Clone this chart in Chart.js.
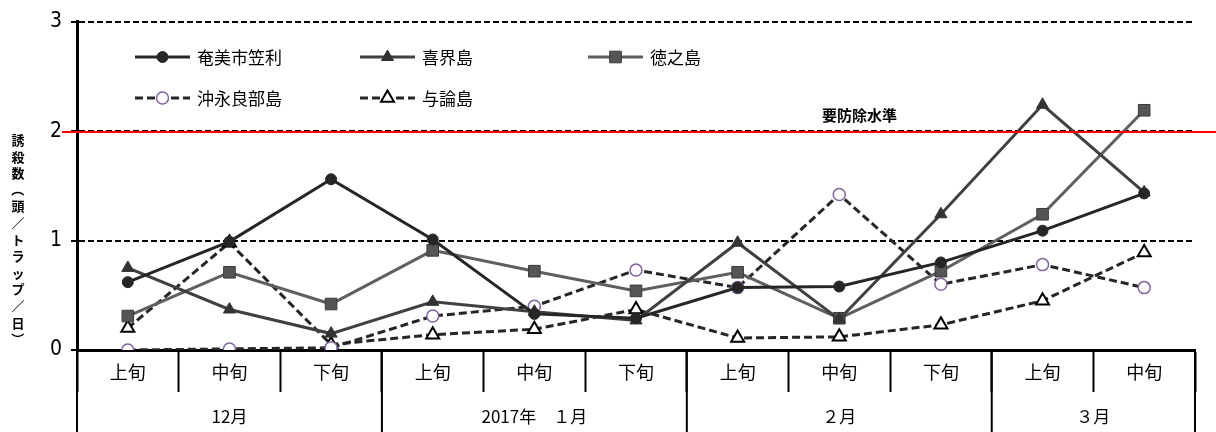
<!DOCTYPE html>
<html>
<head>
<meta charset="utf-8">
<script src="https://cdn.jsdelivr.net/npm/chart.js@4.4.1/dist/chart.umd.min.js"></script>
<style>
  html, body { margin: 0; padding: 0; background: #ffffff; }
  canvas { display: block; }
</style>
</head>
<body>
<canvas id="trapChart" width="1216" height="432"></canvas>
<script>
// 旬ごとのラベルと月のまとまり
const periods = ['上旬', '中旬', '下旬', '上旬', '中旬', '下旬', '上旬', '中旬', '下旬', '上旬', '中旬'];
const months = ['12月', '2017年　１月', '２月', '３月'];
const monthSpans = [3, 3, 3, 2];

// 地点別の誘殺数（頭／トラップ／日）
const amamiKasari = [0.62, 0.99, 1.56, 1.01, 0.33, 0.29, 0.57, 0.58, 0.80, 1.09, 1.43];
const kikaijima   = [0.75, 0.37, 0.15, 0.44, 0.35, 0.27, 0.98, 0.28, 1.24, 2.24, 1.44];
const tokunoshima = [0.31, 0.71, 0.42, 0.91, 0.72, 0.54, 0.71, 0.29, 0.72, 1.24, 2.19];
const okinoerabu  = [0.00, 0.01, 0.02, 0.31, 0.40, 0.73, 0.57, 1.42, 0.60, 0.78, 0.57];
const yoron       = [0.20, 0.98, 0.05, 0.14, 0.19, 0.37, 0.11, 0.12, 0.23, 0.45, 0.89];

const yTicks = [0, 1, 2, 3];
const controlLevel = 2;
const controlLabel = '要防除水準';
const yTitle = '誘殺数（頭／トラップ／日）';

const CJK = '"Noto Sans CJK JP", "Noto Sans CJK SC", sans-serif';
const NARROW = '"Liberation Sans Narrow", "DejaVu Sans Condensed", "Liberation Sans", sans-serif';

const dashed = [8, 4];

const datasets = [
  { label: '奄美市笠利', data: amamiKasari, borderColor: '#262626', borderWidth: 3,
    pointStyle: 'circle', pointRadius: 5.5, pointBackgroundColor: '#262626', pointBorderColor: '#262626', pointBorderWidth: 1 },
  { label: '喜界島', data: kikaijima, borderColor: '#404040', borderWidth: 3,
    pointStyle: 'triangle', pointRadius: 7, pointBackgroundColor: '#333333', pointBorderColor: '#333333', pointBorderWidth: 1 },
  { label: '徳之島', data: tokunoshima, borderColor: '#5f5f5f', borderWidth: 3,
    pointStyle: 'rect', pointRadius: 8.2, pointBackgroundColor: '#555555', pointBorderColor: '#3a3a3a', pointBorderWidth: 1 },
  { label: '沖永良部島', data: okinoerabu, borderColor: '#262626', borderWidth: 3, borderDash: dashed,
    pointStyle: 'circle', pointRadius: 6, pointBackgroundColor: '#ffffff', pointBorderColor: '#8064a2', pointBorderWidth: 1.5 },
  { label: '与論島', data: yoron, borderColor: '#262626', borderWidth: 3, borderDash: dashed,
    pointStyle: 'triangle', pointRadius: 7.5, pointBackgroundColor: '#ffffff', pointBorderColor: '#000000', pointBorderWidth: 2 }
].map(d => Object.assign({ tension: 0, fill: false, pointHoverRadius: d.pointRadius }, d));

// 凡例（線とマーカーを組み合わせて描く）
const legendLayout = [
  { index: 0, x: 135, row: 0 },
  { index: 1, x: 360, row: 0 },
  { index: 2, x: 588, row: 0 },
  { index: 3, x: 135, row: 1 },
  { index: 4, x: 360, row: 1 }
];

const comboLegend = {
  id: 'comboLegend',
  afterDraw(chart) {
    const ctx = chart.ctx;
    const rowY = [57, 98];
    const lineLen = 55;
    legendLayout.forEach(item => {
      const ds = chart.data.datasets[item.index];
      const y = rowY[item.row];
      ctx.save();
      ctx.strokeStyle = ds.borderColor;
      ctx.lineWidth = ds.borderWidth;
      ctx.setLineDash(ds.borderDash || []);
      ctx.beginPath();
      ctx.moveTo(item.x, y);
      ctx.lineTo(item.x + lineLen, y);
      ctx.stroke();
      ctx.setLineDash([]);
      ctx.fillStyle = ds.pointBackgroundColor;
      ctx.strokeStyle = ds.pointBorderColor;
      ctx.lineWidth = ds.pointBorderWidth;
      Chart.helpers.drawPoint(ctx, {
        pointStyle: ds.pointStyle, radius: ds.pointRadius, rotation: 0, borderWidth: ds.pointBorderWidth
      }, item.x + lineLen / 2, y);
      ctx.fillStyle = '#000000';
      ctx.font = '17px ' + CJK;
      ctx.textAlign = 'left';
      ctx.textBaseline = 'middle';
      ctx.fillText(ds.label, item.x + lineLen + 7, y + 1);
      ctx.restore();
    });
  }
};

// 要防除水準の赤線と注記
const controlLine = {
  id: 'controlLine',
  afterDatasetsDraw(chart) {
    const ctx = chart.ctx;
    const y = chart.scales.y.getPixelForValue(controlLevel) + 1;
    const x = chart.scales.x;
    ctx.save();
    ctx.strokeStyle = '#ff0000';
    ctx.lineWidth = 2;
    ctx.beginPath();
    ctx.moveTo(chart.chartArea.left - 15, y);
    ctx.lineTo(chart.width, y);
    ctx.stroke();
    ctx.fillStyle = '#000000';
    ctx.font = 'bold 15px ' + CJK;
    ctx.textAlign = 'center';
    ctx.textBaseline = 'middle';
    const step = x.getPixelForValue(1) - x.getPixelForValue(0);
    ctx.fillText(controlLabel, x.getPixelForValue(7) + step * 0.2, y - 17);
    ctx.restore();
  }
};

// 月の区切り線と月ラベル
const monthRow = {
  id: 'monthRow',
  afterDraw(chart) {
    const ctx = chart.ctx;
    const x = chart.scales.x;
    const step = x.getPixelForValue(1) - x.getPixelForValue(0);
    const top = chart.chartArea.bottom;
    const bottom = chart.height;
    ctx.save();
    ctx.strokeStyle = '#000000';
    ctx.lineWidth = 2;
    ctx.fillStyle = '#000000';
    ctx.font = '17px ' + CJK;
    ctx.textAlign = 'center';
    ctx.textBaseline = 'middle';
    let start = 0;
    const edges = [x.getPixelForValue(0) - step / 2];
    monthSpans.forEach((span, m) => {
      const left = x.getPixelForValue(start) - step / 2;
      const right = x.getPixelForValue(start + span - 1) + step / 2;
      edges.push(right);
      ctx.fillText(months[m], (left + right) / 2, 417);
      start += span;
    });
    edges.forEach(px => {
      ctx.beginPath();
      ctx.moveTo(px, top);
      ctx.lineTo(px, bottom);
      ctx.stroke();
    });
    ctx.restore();
  }
};

// 縦書きの軸タイトル
const verticalTitle = {
  id: 'verticalTitle',
  afterDraw(chart) {
    const ctx = chart.ctx;
    const chars = Array.from(yTitle);
    const cx = 18;
    const stepY = 16.6;
    const y0 = 140;
    ctx.save();
    ctx.fillStyle = '#000000';
    ctx.font = 'bold 13px ' + CJK;
    ctx.textAlign = 'center';
    ctx.textBaseline = 'middle';
    chars.forEach((ch, i) => {
      const cy = y0 + i * stepY;
      if (ch === '（' || ch === '）') {
        ctx.save();
        ctx.translate(cx, cy);
        ctx.rotate(Math.PI / 2);
        ctx.fillText(ch, 0, 0);
        ctx.restore();
      } else {
        ctx.fillText(ch, cx, cy);
      }
    });
    ctx.restore();
  }
};

new Chart(document.getElementById('trapChart'), {
  type: 'line',
  data: { labels: periods, datasets: datasets },
  options: {
    responsive: false,
    animation: false,
    devicePixelRatio: 1,
    layout: { padding: { top: 18, right: 21, left: 0, bottom: 0 } },
    plugins: { legend: { display: false }, tooltip: { enabled: false } },
    scales: {
      x: {
        type: 'category',
        offset: true,
        afterFit(scale) { scale.height = 82; },
        grid: {
          offset: true, display: true, drawOnChartArea: false, drawTicks: true,
          tickLength: 42, tickWidth: 2, tickColor: '#000000'
        },
        border: { display: true, color: '#000000', width: 3 },
        ticks: {
          autoSkip: false, maxRotation: 0, minRotation: 0, padding: -31,
          color: '#000000', font: { family: CJK, size: 18 }
        }
      },
      y: {
        min: yTicks[0],
        max: yTicks[yTicks.length - 1],
        afterFit(scale) { scale.width = 77; },
        afterBuildTicks(scale) { scale.ticks = yTicks.map(v => ({ value: v })); },
        grid: {
          color: '#000000',
          lineWidth: c => (c.tick && c.tick.value === 0 ? 0 : 2),
          drawTicks: true, tickLength: 6, tickWidth: 2, tickColor: '#000000', tickBorderDash: []
        },
        border: { display: true, color: '#000000', width: 3, dash: [6, 3] },
        ticks: {
          padding: 9, color: '#000000',
          font: { family: NARROW, size: 21 },
          callback: v => String(v)
        }
      }
    }
  },
  plugins: [controlLine, monthRow, verticalTitle, comboLegend]
});
</script>
</body>
</html>
